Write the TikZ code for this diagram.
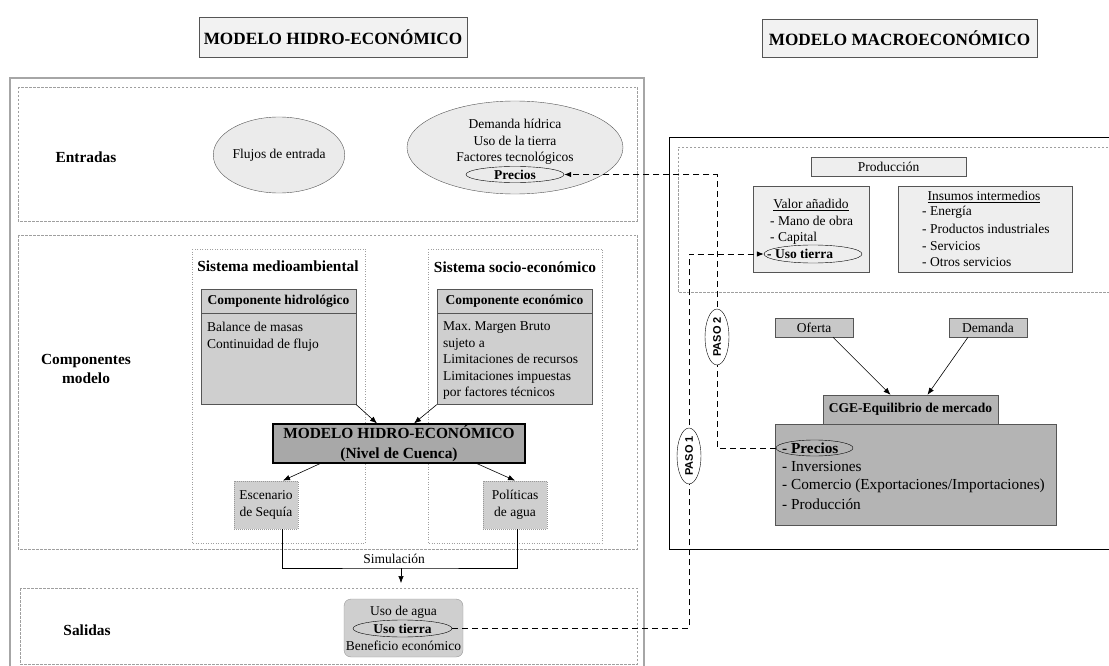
\documentclass[tikz,border=0pt]{standalone}
\usepackage{fontspec}
\setmainfont{Liberation Serif}
\newfontfamily\pasofont{Liberation Sans}
\usetikzlibrary{arrows.meta,shapes,positioning,calc}
\definecolor{gBorde}{HTML}{555555}
\definecolor{gClaro}{HTML}{F2F2F2}
\definecolor{gElip}{HTML}{EBEBEB}
\definecolor{gComp}{HTML}{CFCFCF}
\definecolor{gNucleo}{HTML}{A8A8A8}
\definecolor{gCaja}{HTML}{EEEEEE}
\definecolor{gOferta}{HTML}{C8C8C8}
\definecolor{gCGE}{HTML}{B4B4B4}
\newcommand{\mTxt}{\fontsize{13.5}{16.5}\selectfont}
\newcommand{\mLbl}{\fontsize{15.4}{19.5}\selectfont}
\newcommand{\mTtl}{\fontsize{17.2}{20}\selectfont}
\newcommand{\mCge}{\fontsize{15.3}{18.7}\selectfont}
\frenchspacing
\begin{document}
\begin{tikzpicture}
[x=1pt,y=-1pt,>={Latex[length=7pt,width=5.5pt]},
titulo/.style={draw=gBorde,fill=gClaro,inner sep=0pt,font=\mTtl\bfseries},
zona/.style={draw=gray!75,line width=0.6pt,dash pattern=on 2.5pt off 1.5pt},
sist/.style={draw=gray!75,line width=0.6pt,dash pattern=on 1pt off 1.5pt},
marco/.style={draw=gray!70,line width=1.6pt},
etiq/.style={font=\mLbl\bfseries,inner sep=0pt,align=center},
texto/.style={font=\mTxt,inner sep=0pt},
elip/.style={draw=gBorde,fill=gElip,ellipse,inner sep=0pt,font=\mTxt},
ovalo/.style={draw=black,ellipse,inner sep=0pt,font=\mTxt\bfseries},
cab/.style={draw=gBorde,fill=gComp,inner sep=0pt,font=\mTxt\bfseries},
cuerpo/.style={draw=gBorde,fill=gComp,inner sep=0pt},
nucleo/.style={draw=black,line width=1.2pt,fill=gNucleo,inner sep=0pt,align=center,font=\mLbl\bfseries},
escen/.style={draw=gray!80,dash pattern=on 1pt off 1pt,line width=0.9pt,fill=gComp,inner sep=0pt,align=center,font=\mTxt},
salida/.style={draw=gray!80,fill=gComp,rounded corners=7pt,inner sep=0pt},
caja/.style={draw=gBorde,fill=gCaja,inner sep=0pt,font=\mTxt},
cajaOsc/.style={draw=gBorde,fill=gOferta,inner sep=0pt,font=\mTxt},
cge/.style={draw=gBorde,fill=gCGE,inner sep=0pt},
flecha/.style={->,black,line width=0.6pt},
enlace/.style={black,line width=0.8pt,dash pattern=on 6pt off 4pt},
paso/.style={draw=black,fill=white,ellipse,rotate=90,inner sep=0pt,minimum width=43,minimum height=24,font=\pasofont\bfseries\fontsize{11}{12}\selectfont}]
\useasboundingbox (0,0) rectangle (1109,666);
%%
%%%%%%%%%%%%%%%%%%
% Titulos
%%%%%%%%%%%%%%%%%%
\node[titulo,minimum width=268,minimum height=40] (tHidro) at (333,37) {MODELO HIDRO-ECONÓMICO};
\node[titulo,minimum width=275,minimum height=38] (tMacro) at (899.5,38) {MODELO MACROECONÓMICO};
%%
%%%%%%%%%%%%%%%%%%
% Modelo hidro-economico
%%%%%%%%%%%%%%%%%%
\draw[marco] (10,78) rectangle (644,690);
%% entradas
\draw[zona] (18,87) rectangle (637,221);
\node[etiq] (lEnt) at (86,157) {Entradas};
\node[elip,minimum width=116,minimum height=76] (flujos) at (279,155) {Flujos de entrada};
\node[elip,minimum width=216,minimum height=93] (demanda) at (515,147.5) {};
\node[texto,align=center] (demTxt) at (515,142) {Demanda hídrica\\Uso de la tierra\\Factores tecnológicos};
\node[ovalo,minimum width=98,minimum height=16] (precEnt) at (515,174.5) {Precios};
%%
%% componentes
\draw[zona] (18,235) rectangle (637,549);
\node[etiq] (lComp) at (86,369) {Componentes\\modelo};
\draw[sist] (192,249) rectangle (365,543);
\draw[sist] (428,249) rectangle (602,543);
\node[etiq] (sMedio) at (278,266) {Sistema medioambiental};
\node[etiq] (sSocio) at (515,267) {Sistema socio-económico};
\node[cab,minimum width=155,minimum height=24] (hidroH) at (278.5,301) {Componente hidrológico};
\node[cuerpo,minimum width=155,minimum height=91,below=0pt of hidroH] (hidroB) {};
\node[texto,align=left,anchor=west] (hidroTxt) at (207,337) {Balance de masas\\Continuidad de flujo};
\node[cab,minimum width=155,minimum height=24] (econH) at (514.5,301) {Componente económico};
\node[cuerpo,minimum width=155,minimum height=91,below=0pt of econH] (econB) {};
\node[texto,align=left,anchor=west] (econTxt) at (443,361) {Max. Margen Bruto\\sujeto a\\Limitaciones de recursos\\Limitaciones impuestas\\por factores técnicos};
\node[nucleo,minimum width=252,minimum height=39] (modelo) at (399,443.5) {MODELO HIDRO-ECONÓMICO\\(Nivel de Cuenca)};
\draw[flecha] (hidroB.south east) -- ([xshift=-22pt]modelo.north);
\draw[flecha] (econB.south west) -- ([xshift=15pt]modelo.north);
\node[escen,minimum width=64,minimum height=48] (esc) at (266,505) {Escenario\\de Sequía};
\node[escen,minimum width=64,minimum height=48] (pol) at (515,505) {Políticas\\de agua};
\draw[flecha] ([xshift=-79pt]modelo.south) -- ([xshift=17pt]esc.north);
\draw[flecha] ([xshift=78pt]modelo.south) -- (pol.north);
%% simulacion
\coordinate (sim) at (401,568);
\coordinate (simFin) at (401,583);
\draw[black,line width=0.6pt] ([xshift=16pt]esc.south) |- (sim) -| ([xshift=2pt]pol.south);
\draw[flecha] (sim) -- (simFin);
\node[texto] (simTxt) at (394,559) {Simulación};
%%
%% salidas
\draw[zona] (20,588) rectangle (637,664);
\node[etiq] (lSal) at (87,630) {Salidas};
\node[salida,minimum width=119,minimum height=58] (salida) at (403.5,628) {};
\node[texto] (aguaTxt) at (403.5,612) {Uso de agua};
\node[ovalo,minimum width=99,minimum height=17] (usoSal) at (402.5,628.5) {Uso tierra};
\node[texto] (benTxt) at (403.5,646) {Beneficio económico};
%%
%%%%%%%%%%%%%%%%%%
% Modelo macroeconomico
%%%%%%%%%%%%%%%%%%
\draw[black,line width=0.8pt] (1120,137) -- (669,137) -- (669,549) -- (1120,549);
\draw[zona] (1120,147) -- (678,147) -- (678,292) -- (1120,292);
\node[caja,minimum width=155,minimum height=19] (prod) at (888.5,166.5) {Producción};
%% valor anadido
\node[caja,minimum width=116,minimum height=86] (valor) at (811,229) {};
\node[texto] (valorT) at (811,205) {\underline{Valor añadido}};
\node[texto,anchor=west] (mano) at (770,221) {- Mano de obra};
\node[texto,anchor=west] (capital) at (770,238) {- Capital};
\node[ovalo,minimum width=98,minimum height=18] (usoVA) at (813,254) {};
\node[texto,anchor=west,font=\mTxt\bfseries] (usoVAT) at (767,254) {- Uso tierra};
%% insumos
\node[caja,minimum width=174,minimum height=86] (insumos) at (985,229) {};
\node[texto] (insT) at (984,197) {\underline{Insumos intermedios}};
\node[texto,anchor=west] (ins1) at (922,212) {- Energía};
\node[texto,anchor=west] (ins2) at (922,229) {- Productos industriales};
\node[texto,anchor=west] (ins3) at (922,246) {- Servicios};
\node[texto,anchor=west] (ins4) at (922,262) {- Otros servicios};
%% mercado
\node[cajaOsc,minimum width=78,minimum height=19] (oferta) at (814,327.5) {Oferta};
\node[cajaOsc,minimum width=78,minimum height=19] (demand) at (988,327.5) {Demanda};
\node[cge,minimum width=175,minimum height=29,font=\mTxt\bfseries] (cgeH) at (910.5,409.5) {CGE-Equilibrio de mercado};
\node[cge,minimum width=281,minimum height=101] (cgeB) at (915.5,474.5) {};
\draw[flecha] ([xshift=19pt]oferta.south) -- ([xshift=-20pt]cgeH.north);
\draw[flecha] ([xshift=-20pt]demand.south) -- ([xshift=17pt]cgeH.north);
\node[ovalo,minimum width=77,minimum height=16] (precCGE) at (814.5,448) {};
\node[texto,anchor=west,font=\mCge\bfseries] (cge1) at (782,448) {- Precios};
\node[texto,anchor=west,font=\mCge] (cge2) at (782,467) {- Inversiones};
\node[texto,anchor=west,font=\mCge] (cge3) at (782,486) {- Comercio (Exportaciones/Importaciones)};
\node[texto,anchor=west,font=\mCge] (cge4) at (782,504) {- Producción};
%%
%%%%%%%%%%%%%%%%%%
% Pasos
%%%%%%%%%%%%%%%%%%
\coordinate (p2) at (717,448);
\draw[enlace,->] (precCGE.west) -- (p2) |- (precEnt.east);
\node[paso] (paso2) at (717,337) {PASO 2};
\coordinate (p1) at (689,628.5);
\draw[enlace,->] (usoSal.east) -- (p1) |- (usoVA.west);
\node[paso] (paso1) at (689,456) {PASO 1};
\end{tikzpicture}
\end{document}
